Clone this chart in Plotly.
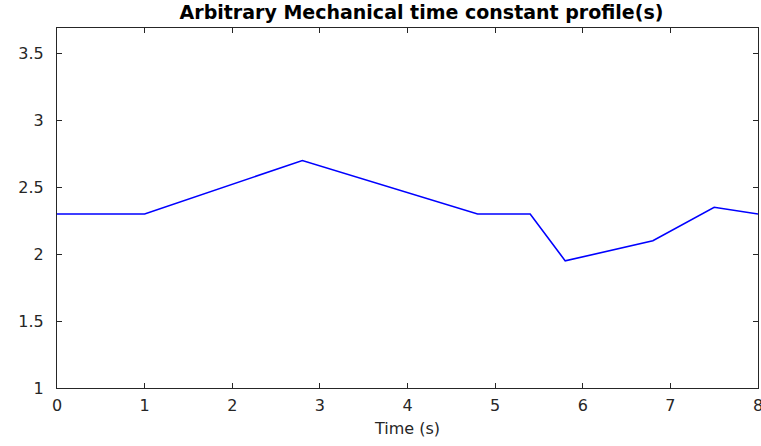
import plotly.graph_objects as go

time_s = [0, 1, 2.8, 4.8, 5.4, 5.8, 6.8, 7.5, 8]
tau_m = [2.3, 2.3, 2.7, 2.3, 2.3, 1.95, 2.1, 2.35, 2.3]
x_ticks = [0, 1, 2, 3, 4, 5, 6, 7, 8]
y_ticks = [1, 1.5, 2, 2.5, 3, 3.5]
y_tick_text = ["1", "1.5", "2", "2.5", "3", "3.5"]

FONT = "DejaVu Sans, Liberation Sans, Arial"

fig = go.Figure()
fig.add_trace(go.Scatter(x=time_s, y=tau_m, mode="lines",
                         line=dict(color="#0000ff", width=1.6), showlegend=False))

axis_common = dict(showgrid=False, zeroline=False, showline=True, linecolor="#262626",
                   linewidth=1, mirror="allticks", ticks="inside", ticklen=5,
                   tickcolor="#262626", ticklabeloverflow="allow", automargin=False,
                   tickfont=dict(family=FONT, size=16, color="#262626"))

fig.update_layout(
    width=761, height=446,
    margin=dict(l=57, r=3, t=28, b=58, autoexpand=False),
    paper_bgcolor="white", plot_bgcolor="white",
    title=dict(text="<b>Arbitrary Mechanical time constant profile(s)</b>",
               x=0.52, xref="paper", xanchor="center", y=0.973, yanchor="middle",
               font=dict(family=FONT, size=19, color="black")),
    xaxis=dict(range=[0, 8], tickvals=x_ticks, ticklabelstandoff=3,
               title=dict(text="Time (s)", standoff=8,
                          font=dict(family=FONT, size=16, color="#262626")), **axis_common),
    yaxis=dict(range=[1, 3.69], tickvals=y_ticks, ticktext=y_tick_text,
               ticklabelstandoff=9, **axis_common),
)

fig.write_html("out.html", config={"displayModeBar": False},
               post_script="document.body.style.margin='0';")
